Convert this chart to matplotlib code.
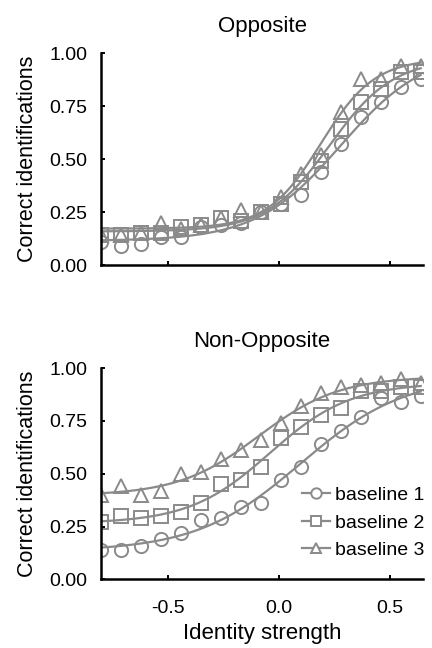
import numpy as np
import matplotlib
matplotlib.use('Agg')
import matplotlib.pyplot as plt

plt.rcParams['font.family'] = ['Liberation Sans', 'DejaVu Sans']

# identity strength levels
strength = [-0.8, -0.71, -0.62, -0.53, -0.44, -0.35, -0.26, -0.17, -0.08,
            0.01, 0.10, 0.19, 0.28, 0.37, 0.46, 0.55, 0.64]

# Opposite panel
opp_base1 = [0.11, 0.09, 0.10, 0.13, 0.13, 0.18, 0.19, 0.20, 0.25,
             0.29, 0.33, 0.44, 0.57, 0.70, 0.77, 0.84, 0.88]
opp_base2 = [0.14, 0.14, 0.15, 0.15, 0.18, 0.19, 0.22, 0.21, 0.25,
             0.29, 0.39, 0.49, 0.64, 0.77, 0.83, 0.91, 0.91]
opp_base3 = [0.14, 0.14, 0.15, 0.20, 0.17, 0.19, 0.22, 0.26, 0.25,
             0.32, 0.43, 0.52, 0.72, 0.88, 0.88, 0.94, 0.94]

# Non-Opposite panel
non_base1 = [0.14, 0.14, 0.16, 0.19, 0.22, 0.28, 0.29, 0.34, 0.36,
             0.47, 0.53, 0.64, 0.70, 0.77, 0.86, 0.84, 0.87]
non_base2 = [0.27, 0.30, 0.29, 0.30, 0.32, 0.36, 0.45, 0.47, 0.53,
             0.67, 0.72, 0.78, 0.81, 0.89, 0.89, 0.91, 0.91]
non_base3 = [0.40, 0.44, 0.40, 0.42, 0.50, 0.51, 0.57, 0.61, 0.66,
             0.74, 0.82, 0.88, 0.91, 0.92, 0.93, 0.95, 0.93]

labels = ['baseline 1', 'baseline 2', 'baseline 3']
markers = ['o', 's', '^']
gray = '#8a8a8a'


def fit_logistic(x, y):
    # least squares fit of lo + amp / (1 + exp(-k (x - mid)))
    x = np.asarray(x)
    y = np.asarray(y)
    best = None
    for mid in np.linspace(-0.6, 0.6, 121):
        for k in np.linspace(2, 30, 113):
            s = 1 / (1 + np.exp(-k * (x - mid)))
            A = np.column_stack([np.ones_like(s), s])
            coef, _, _, _ = np.linalg.lstsq(A, y, rcond=None)
            sse = np.sum((A @ coef - y) ** 2)
            if best is None or sse < best[0]:
                best = (sse, mid, k, coef)
    _, mid, k, coef = best
    xs = np.linspace(x.min(), x.max(), 200)
    return xs, coef[0] + coef[1] / (1 + np.exp(-k * (xs - mid)))


fig = plt.figure(figsize=(4.32, 6.48), dpi=100)
ax1 = fig.add_axes([0.234, 0.591, 0.745, 0.327])
ax2 = fig.add_axes([0.234, 0.106, 0.745, 0.326])

panels = [(ax1, 'Opposite', [opp_base1, opp_base2, opp_base3]),
          (ax2, 'Non-Opposite', [non_base1, non_base2, non_base3])]

for ax, title, series in panels:
    for vals, m, lab in zip(series, markers, labels):
        xs, ys = fit_logistic(strength, vals)
        ax.plot(xs, ys, color=gray, lw=1.6)
        ax.plot(strength, vals, linestyle='none', marker=m, ms=9.5,
                mfc='none', mec=gray, mew=1.4)
        ax.plot([], [], color=gray, lw=1.6, marker=m, ms=7.5, mfc='white',
                mec=gray, mew=1.4, label=lab)
    ax.set_xlim(-0.8, 0.65)
    ax.set_ylim(0, 1)
    ax.set_yticks([0, 0.25, 0.5, 0.75, 1.0])
    ax.set_yticklabels(['0.00', '0.25', '0.50', '0.75', '1.00'])
    ax.set_xticks([-0.5, 0.0, 0.5])
    ax.spines['top'].set_visible(False)
    ax.spines['right'].set_visible(False)
    ax.spines['left'].set_linewidth(1.8)
    ax.spines['bottom'].set_linewidth(1.8)
    ax.tick_params(direction='in', length=3, width=1.4, labelsize=14)
    ax.tick_params(axis='y', pad=10)
    ax.tick_params(axis='x', pad=15)
    ax.set_title(title, fontsize=16, pad=15)
    ax.set_ylabel('Correct identifications', fontsize=15.5, labelpad=8)

ax1.set_xticklabels([])
ax2.set_xticklabels(['-0.5', '0.0', '0.5'])
ax2.set_xlabel('Identity strength', fontsize=16, labelpad=4)

ax2.legend(loc='lower right', frameon=False, fontsize=14, handlelength=1.4,
           handletextpad=0.3, labelspacing=0.5, borderaxespad=0.0,
           bbox_to_anchor=(1.03, 0.06))

fig.savefig('out.png', dpi=100)
